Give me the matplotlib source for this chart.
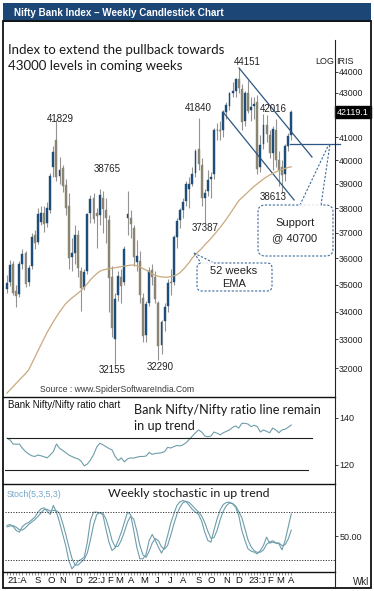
import numpy as np
import pandas as pd
import matplotlib
matplotlib.use("Agg")
import matplotlib.pyplot as plt
from matplotlib import font_manager as fm
from matplotlib.patches import Rectangle, FancyBboxPatch
from matplotlib.ticker import NullLocator
from matplotlib.transforms import blended_transform_factory

# weekly bars, first one is the week of 5 Jul 2021
weeks = pd.date_range("2021-07-05", periods=93, freq="W-MON")

opens = [34850, 35100, 35800, 34750, 34650, 35800, 36200, 35100, 35700, 36900,
         36650, 37450, 37800, 37400, 37900, 39700, 40900, 39350, 39650, 38950,
         38100, 36050, 36200, 36900, 35500, 34900, 35500, 37800, 38400, 37800,
         37700, 38400, 37900, 37500, 35300, 33000, 34600, 35300, 35100, 37600,
         37600, 37200, 35850, 35900, 34500, 33150, 34300, 35550, 35300, 34300,
         32800, 33650, 34200, 35100, 35100, 36850, 37500, 37900, 38300, 38800,
         39000, 39450, 40500, 39800, 38400, 38700, 39200, 39400, 41300, 41300,
         41300, 42150, 42400, 43000, 43100, 43650, 43200, 41700, 43000, 42200,
         42400, 42600, 39700, 40700, 41550, 41100, 40300, 41300, 40000, 39700,
         39400, 40600, 41100]
highs = [35350, 35950, 35900, 35000, 35900, 36350, 36300, 35750, 37000, 37100,
         38000, 38100, 38100, 38250, 39450, 40600, 41829, 40150, 39800, 39200,
         38600, 36800, 37300, 37100, 35650, 35600, 37800, 38550, 38600, 38000,
         38765, 38700, 38400, 37700, 35700, 34700, 35500, 35600, 36500, 38700,
         37900, 37300, 36700, 36300, 34700, 34400, 35650, 35800, 35500, 34400,
         33700, 34300, 35200, 35600, 36900, 37600, 38000, 38400, 39100, 39300,
         39700, 40500, 41840, 40100, 38800, 39600, 39500, 41400, 41650, 41700,
         42200, 42600, 43050, 43500, 43700, 44151, 43400, 43100, 43600, 42800,
         42800, 42900, 41100, 42016, 42000, 41300, 41500, 41800, 40400, 40000,
         40700, 41200, 42200]
lows = [34700, 34950, 34600, 34150, 34550, 35600, 34900, 34950, 35600, 36350,
        36550, 37300, 37050, 37250, 37800, 39300, 39100, 39000, 38650, 37700,
        35600, 35500, 35800, 35300, 34020, 34800, 35400, 37400, 37400, 36400,
        37300, 37000, 36600, 34000, 33100, 32155, 34400, 34300, 35000, 36900,
        36800, 35700, 35500, 34300, 32900, 32900, 34200, 35000, 34300, 32290,
        32500, 33300, 34000, 34600, 35000, 36400, 37200, 37600, 38100, 38000,
        38900, 39300, 39600, 38100, 37387, 38500, 38400, 39200, 40900, 40900,
        41000, 41800, 42200, 42800, 42800, 43000, 41300, 41500, 42100, 41700,
        41800, 39400, 39500, 40500, 40800, 40100, 39600, 39700, 38900, 38613,
        39100, 40400, 40900]
closes = [35050, 35750, 34700, 34580, 35800, 36170, 35030, 35620, 36830, 36610,
          37750, 37800, 37350, 38000, 39350, 40350, 39300, 39600, 38900, 38000,
          36030, 36200, 36900, 35620, 34860, 35480, 37740, 38370, 37570, 37690,
          38520, 37960, 37600, 35230, 33410, 34480, 35320, 34960, 36370, 37750,
          37350, 36050, 36100, 34600, 33120, 34270, 35500, 35280, 34480, 32750,
          33630, 34160, 35070, 35060, 36840, 37490, 37920, 38240, 38990, 38990,
          39420, 40420, 39820, 38410, 38630, 39180, 39300, 41310, 41300, 41260,
          42140, 42440, 42980, 43100, 43630, 43220, 41670, 42990, 42190, 42370,
          42510, 39630, 40670, 41560, 41130, 40300, 41350, 39990, 39600, 39390,
          40610, 41040, 42119.1]
ema52 = [31150, 31260, 31370, 31480, 31590, 31700, 31810, 31930, 32150, 32370,
         32590, 32810, 33030, 33250, 33440, 33630, 33810, 33980, 34140, 34290,
         34400, 34500, 34590, 34680, 34780, 34900, 35030, 35180, 35300, 35410,
         35500, 35550, 35580, 35600, 35620, 35640, 35660, 35680, 35700, 35720,
         35740, 35740, 35720, 35670, 35610, 35550, 35490, 35410, 35350, 35310,
         35290, 35280, 35280, 35300, 35330, 35370, 35450, 35570, 35700, 35850,
         36020, 36150, 36270, 36380, 36530, 36650, 36780, 36920, 37070, 37220,
         37380, 37550, 37730, 37920, 38110, 38300, 38420, 38540, 38660, 38780,
         38900, 39000, 39100, 39200, 39290, 39370, 39440, 39500, 39560, 39610,
         39650, 39690, 39720]
ratio = [131.4, 130.6, 128.9, 128.8, 128.9, 127.1, 125.7, 124.7, 123.9, 123.6,
         124.2, 123.9, 123.5, 123.0, 124.3, 125.7, 128.9, 127.1, 126.2, 125.3,
         124.2, 123.6, 123.0, 122.6, 121.6, 119.6, 120.4, 122.1, 124.3, 127.5,
         129.2, 128.6, 127.8, 127.0, 126.4, 123.6, 121.9, 123.0, 121.3, 122.6,
         123.0, 122.9, 123.3, 123.6, 123.6, 123.8, 125.3, 124.5, 124.9, 125.0,
         125.2, 125.7, 127.5, 127.2, 127.8, 128.3, 128.1, 128.6, 129.5, 130.9,
         132.3, 133.7, 134.9, 134.0, 132.3, 132.0, 132.3, 134.0, 133.5, 132.8,
         133.7, 134.3, 134.9, 136.0, 136.6, 135.7, 137.7, 137.7, 137.4, 136.3,
         136.9, 136.3, 134.0, 134.9, 134.3, 133.7, 135.7, 134.9, 133.7, 134.9,
         135.2, 136.0, 137.0]
stoch_k = [63.8, 65.0, 62.5, 57.5, 55.4, 62.5, 65.8, 67.5, 70.8, 74.2,
           80.4, 84.6, 85.8, 81.7, 77.5, 88.8, 80.4, 67.9, 53.3, 38.8,
           20.0, 9.6, 13.8, 19.2, 21.3, 24.2, 42.9, 70.0, 80.4, 80.4,
           79.6, 77.5, 59.6, 42.9, 32.5, 35.8, 45.0, 55.4, 67.9, 80.4,
           77.5, 57.5, 36.7, 22.1, 22.1, 27.5, 45.0, 52.5, 45.0, 36.7,
           29.2, 36.7, 51.3, 66.7, 78.3, 88.8, 93.3, 95.0, 93.3, 88.8,
           83.8, 80.4, 77.5, 69.2, 55.4, 45.0, 42.9, 58.3, 72.1, 83.3,
           90.0, 92.5, 92.9, 90.8, 86.7, 76.3, 57.5, 45.0, 34.6, 31.7,
           30.4, 28.3, 32.5, 38.8, 49.2, 41.7, 42.9, 41.7, 40.8, 33.3,
           45.0, 61.7, 78.3]
stoch_d = [62.0, 63.0, 63.5, 61.5, 58.5, 58.0, 61.0, 65.0, 68.0, 71.0,
           75.0, 79.5, 83.5, 84.0, 81.7, 82.7, 82.2, 79.0, 67.0, 53.0,
           37.4, 22.8, 14.5, 14.2, 18.1, 21.6, 29.5, 45.7, 64.4, 76.9,
           80.1, 79.2, 72.2, 60.0, 45.0, 37.1, 37.8, 45.4, 56.1, 67.9,
           75.3, 71.8, 57.2, 38.8, 27.0, 23.9, 31.5, 41.7, 47.5, 44.7,
           37.0, 34.2, 39.1, 51.6, 65.4, 77.9, 86.8, 92.4, 93.9, 92.4,
           88.6, 84.3, 80.6, 75.7, 67.4, 56.5, 47.8, 48.7, 57.8, 71.2,
           81.8, 88.6, 91.8, 91.4, 88.1, 81.3, 73.5, 59.6, 45.7, 37.1,
           32.2, 30.1, 30.4, 33.2, 40.2, 43.2, 44.6, 42.1, 41.8, 38.6,
           39.7, 46.7, 58.0]

price_ticks = [32000, 33000, 34000, 35000, 36000, 37000, 38000, 39000,
               40000, 41000, 43000, 44000]
swing_idx = [16, 30, 35, 49, 62, 64, 75, 83, 89]
swing_val = [41829, 38765, 32155, 32290, 41840, 37387, 44151, 42016, 38613]

# drawn trend lines (week index, price)
upper_tl = ([75.1, 98.7], [44166, 40140])
lower_tl = ([69.9, 92.9], [42128, 38330])
support_level = 40700
ratio_levels = [131.4, 117.9]

W, H = 374, 591
fig = plt.figure(figsize=(W / 100, H / 100), dpi=100)

have = {f.name for f in fm.fontManager.ttflist}
def pick(*names):
    for n in names:
        if n in have:
            return n
    return "DejaVu Sans"
NARROW = pick("Liberation Sans Narrow", "Liberation Sans")
ARIAL = pick("Liberation Sans", "DejaVu Sans")
CAL = pick("Lato", "Open Sans", "Noto Sans")

UP = "#1f4d78"
DN = "#8a8472"
WICK = "#939393"
TL = "#2c5683"
LINE = "#6e9dab"

def box(top, bottom, left=5, right=335):
    return [left / W, 1 - bottom / H, (right - left) / W, (bottom - top) / H]

x = np.arange(len(weeks))
PXW = 3.09  # pixels per week
xlim = (-2 / PXW, (335 - 7) / PXW)

# price panel
ax = fig.add_axes(box(22, 397))
ax.set_yscale("log")
o, h, l, c = map(np.array, (opens, highs, lows, closes))
up = c >= o
ax.vlines(x, l, h, color=WICK, lw=0.8, zorder=1)
ax.bar(x[up], (c - o)[up], bottom=o[up], width=0.62, color=UP, ec=UP, lw=0.3, zorder=2)
ax.bar(x[~up], (o - c)[~up], bottom=c[~up], width=0.62, color=DN, ec=DN, lw=0.3, zorder=2)
ax.plot(x, ema52, color="#c9a97e", lw=0.9, zorder=3)
ax.plot(*upper_tl, color=TL, lw=0.9, clip_on=False)
ax.plot(*lower_tl, color=TL, lw=0.9, clip_on=False)
ax.plot([91.6, 107.8], [support_level] * 2, color=TL, lw=0.9, clip_on=False)
ax.set_xlim(*xlim)
ax.set_ylim(31019, 46403)
ax.yaxis.tick_right()
ax.set_yticks(price_ticks)
ax.set_yticklabels([str(t) for t in price_ticks])
ax.yaxis.set_minor_locator(NullLocator())
ax.tick_params(axis="y", length=2, width=0.6, pad=1, labelsize=6.3,
               labelfontfamily=NARROW, colors="#222")
ax.set_xticks([])
for s in ax.spines.values():
    s.set_visible(False)

offs = [(4, 0), (7, -20), (-3, 6), (2, 7), (0, -10), (0, 5), (8, -6), (10, -5), (-9, 4)]
for i, v, (dx, dy) in zip(swing_idx, swing_val, offs):
    ax.annotate(str(v), (i, v), xytext=(dx * 0.72, -dy * 0.72), textcoords="offset points",
                ha="center", va="center", fontsize=7, family=ARIAL, color="#222", zorder=5)

tr = blended_transform_factory(ax.transAxes, ax.transData)
ax.text(1.006, closes[-1], f"{closes[-1]:.1f}", transform=tr, ha="left", va="center",
        fontsize=6.4, family=NARROW, color="white", clip_on=False,
        bbox=dict(boxstyle="square,pad=0.2", fc="black", ec="black"))

# ratio panel
ax_r = fig.add_axes(box(397, 484))
ax_r.plot(x, ratio, color=LINE, lw=0.8)
ax_r.plot([0, 98.7], [ratio_levels[0]] * 2, color="#222", lw=0.8)
ax_r.plot([-0.65, 97.4], [ratio_levels[1]] * 2, color="#222", lw=0.8)
ax_r.set_xlim(*xlim)
ax_r.set_ylim(111.9, 148.9)
ax_r.yaxis.tick_right()
ax_r.set_yticks([120, 140])
ax_r.tick_params(axis="y", length=2, width=0.6, pad=1, labelsize=6.5,
                 labelfontfamily=NARROW, colors="#222")
ax_r.set_xticks([])
for s in ax_r.spines.values():
    s.set_visible(False)

# stochastic panel
ax_s = fig.add_axes(box(484, 572))
ax_s.plot(x, stoch_d, color=LINE, lw=0.8)
ax_s.plot(x, stoch_k, color=LINE, lw=0.8)
for lv in (80, 20):
    ax_s.axhline(lv, color="#333", lw=0.7, ls=(0, (1.2, 1.5)))
ax_s.set_xlim(*xlim)
ax_s.set_ylim(5.6, 115.6)
ax_s.yaxis.tick_right()
ax_s.set_yticks([50])
ax_s.set_yticklabels(["50.00"])
ax_s.tick_params(axis="y", length=2, width=0.6, pad=1, labelsize=6.5,
                 labelfontfamily=NARROW, colors="#222")
for s in ax_s.spines.values():
    s.set_visible(False)

# month labels under the lower panel, weekly ticks in between
months = weeks.month
starts = [i for i in range(1, len(weeks)) if months[i] != months[i - 1]]
ticks, labels = [], []
for k, i in enumerate(starts):
    letter = weeks[i].strftime("%b")[0]
    if k == 0:
        ticks.append(0)
        labels.append(weeks[i].strftime("%y") + ":" + letter)
    else:
        ticks.append(i)
        labels.append(weeks[i].strftime("%y") + ":J" if weeks[i].month == 1 else letter)
ax_s.set_xticks(x, minor=True)
ax_s.set_xticks([])
ax_s.tick_params(axis="x", which="minor", length=2, width=0.5, color="#666")

rend = fig.canvas.get_renderer()
btr = blended_transform_factory(ax_s.transData, ax_s.transAxes)
prev_x1 = None
for t_i, lab in zip(ticks, labels):
    t = ax_s.text(t_i, -0.04, lab, transform=btr, ha="left", va="top", fontsize=6.8,
                  family=NARROW, color="#111", clip_on=False)
    bb = t.get_window_extent(rend)
    if prev_x1 is not None and bb.x0 < prev_x1 + 1.5:
        t.set_x(t_i + (prev_x1 + 1.5 - bb.x0) / PXW)
        bb = t.get_window_extent(rend)
    prev_x1 = bb.x1

# overlay in pixel units for frame, title and notes
ov = fig.add_axes([0, 0, 1, 1], zorder=10)
ov.set_xlim(0, W)
ov.set_ylim(H, 0)
ov.axis("off")

ov.add_patch(Rectangle((3, 3), 368, 18.5, color="#1b4676", lw=0))
ov.add_patch(Rectangle((3.5, 21), 367.5, 567, fill=False, ec="#111", lw=1.3))
for yy in (397, 484, 572):
    ov.plot([3.5, 335], [yy, yy], color="#111", lw=1.0)
ov.plot([335, 335], [40, 588], color="#222", lw=0.8)

def put(px, py, s, width=None, **kw):
    t = ov.text(px, py, s, **kw)
    if width:
        w = t.get_window_extent(rend).width
        t.set_fontsize(t.get_fontsize() * width / w)
    return t

put(14, 12.5, "Nifty Bank Index – Weekly Candlestick Chart", width=210, va="center",
    fontsize=9, family=NARROW, weight="bold", color="white")

t1 = put(8, 54, "Index to extend the pullback towards", width=217, fontsize=9,
         family=CAL, color="#1a1a1a", va="baseline")
put(8, 70, "43000 levels in coming weeks", fontsize=t1.get_fontsize(), family=CAL,
    color="#1a1a1a", va="baseline")

put(325, 61, "LOG", fontsize=6.5, family=NARROW, color="#222", ha="center", va="center")
put(345, 61, "IRIS", fontsize=6.5, family=NARROW, color="#222", ha="center", va="center")

put(40, 392, "Source : www.SpiderSoftwareIndia.Com", width=153, fontsize=7.5,
    family=NARROW, color="#3a3a3a", va="baseline")

put(8, 408, "Bank Nifty/Nifty ratio chart", width=112, fontsize=7, family=NARROW,
    color="#111", va="baseline")
t2 = put(134, 414, "Bank Nifty/Nifty ratio line remain", width=188, fontsize=9,
         family=CAL, color="#1a1a1a", va="baseline")
put(134, 429.5, "in up trend", fontsize=t2.get_fontsize(), family=CAL,
    color="#1a1a1a", va="baseline")

put(7, 497, "Stoch(5,3,5,3)", width=55, fontsize=7, family=NARROW, color="#74a6c8",
    va="baseline")
put(108, 497, "Weekly stochastic in up trend", width=162, fontsize=9, family=CAL,
    color="#1a1a1a", va="baseline")
put(353, 585, "Wkl", fontsize=7, family=NARROW, color="#222", va="baseline")

# callouts
DASH = dict(color="#3b6b9c", lw=0.8, ls=(0, (2, 1.5)))
ov.add_patch(FancyBboxPatch((258, 205), 75, 51, boxstyle="round,pad=0,rounding_size=7",
                            fc="white", ec="#3b6b9c", lw=0.8, ls=(0, (2, 1.5))))
ov.plot([300, 329], [205, 144], **DASH)
ov.plot([321, 330], [205, 144], **DASH)
ov.plot([301, 320], [205, 205], color="white", lw=1.2)
put(295, 223, "Support", fontsize=8, family=ARIAL, color="#222", ha="center", va="center")
put(295, 238, "@ 40700", fontsize=8, family=ARIAL, color="#222", ha="center", va="center")

ov.add_patch(FancyBboxPatch((197, 263), 75, 28, boxstyle="round,pad=0,rounding_size=5",
                            fc="white", ec="#3b6b9c", lw=0.8, ls=(0, (2, 1.5))))
ov.plot([194, 201], [253, 263], **DASH)
ov.plot([194, 214], [253, 263], **DASH)
ov.plot([202, 213], [263, 263], color="white", lw=1.2)
put(234, 270.5, "52 weeks", fontsize=8, family=ARIAL, color="#222", ha="center", va="center")
put(234, 284, "EMA", fontsize=8, family=ARIAL, color="#222", ha="center", va="center")

fig.savefig("out.png", dpi=100)
